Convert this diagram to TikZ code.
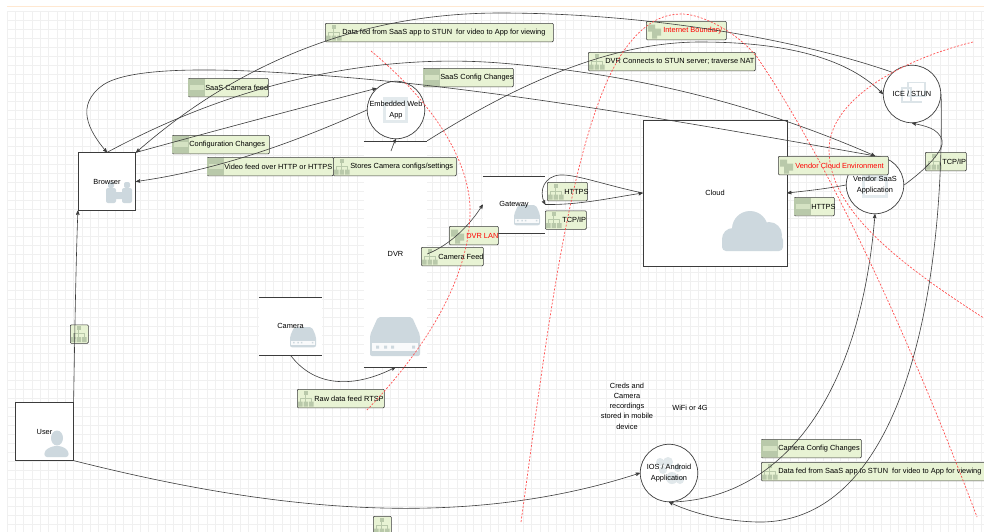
\documentclass[tikz,border=0pt]{standalone}
\usepackage{fontspec}
\setmainfont{Liberation Sans}
\usetikzlibrary{arrows}

\definecolor{gridColor}{RGB}{240,240,240}
\definecolor{lineColor}{RGB}{60,60,60}
\definecolor{iconColor}{RGB}{205,216,222}
\definecolor{labelColor}{RGB}{232,243,212}
\definecolor{labelIconColor}{RGB}{185,201,170}
\definecolor{boundaryColor}{RGB}{255,80,80}

\tikzset{
  flowbox/.style={draw=lineColor,line width=0.7pt,inner sep=0pt,minimum size=57.5pt,font=\fontsize{7.4}{10.3}\selectfont,align=center},
  flowcircle/.style={draw=lineColor,line width=0.7pt,circle,inner sep=0pt,minimum size=57.5pt,font=\fontsize{7.4}{10.3}\selectfont,align=center},
  flowstore/.style={inner sep=0pt,minimum width=63pt,font=\fontsize{7.4}{10.3}\selectfont},
  flowtext/.style={inner sep=0pt,font=\fontsize{7.4}{10.3}\selectfont,align=center},
  labelbox/.style={draw=lineColor,fill=labelColor,line width=0.6pt,rounded corners=1pt,inner sep=0pt,minimum height=18.5pt,anchor=north west,font=\fontsize{7.4}{10}\selectfont},
  conn/.style={->,>=stealth',color=lineColor,line width=0.6pt},
  boundary/.style={color=boundaryColor,line width=0.7pt,dash pattern=on 2pt off 1.6pt},
  pics/orgicon/.style={code={
    \fill[labelIconColor] (6.5,-8) rectangle (10.5,-4);
    \fill[labelIconColor] (1,3) rectangle (5.5,8) (6.5,3) rectangle (11,8) (12,3) rectangle (16.5,8);
    \draw[labelIconColor,line width=0.8pt] (8.5,-4) -- (8.5,3) (3,3) -- (3,-0.5) -- (14,-0.5) -- (14,3);
  }},
  pics/httpicon/.style={code={
    \fill[labelIconColor] (0.4,-8.8) rectangle (17,8.8);
    \fill[labelColor!60!labelIconColor] (1.5,-2.2) rectangle (16,2.2);
  }},
  pics/zoneicon/.style={code={
    \fill[labelIconColor] (2,-6) rectangle (9,1) (8,-2) rectangle (15,5) (6,1) rectangle (11,8);
  }},
  pics/driveicon/.style={code={
    \fill[iconColor,rounded corners=2pt] (8,0) -- (42,0) -- (50,18) -- (50,39) -- (0,39) -- (0,18) -- cycle;
    \fill[white!88!iconColor] (2,26) rectangle (48,34);
    \fill[iconColor] (6,28.5) rectangle (9,31.5) (14,28.5) rectangle (17,31.5) (21,28.5) rectangle (24,31.5) (42,28.5) rectangle (45,31.5);
  }}
}

\begin{document}
\begin{tikzpicture}[x=1pt,y=-1pt]
\useasboundingbox (0,0) rectangle (984,531);
\clip (0,0) rectangle (984,531);
\fill[white] (0,0) rectangle (984,531);
\fill[orange!18] (7,5.6) rectangle (984,7.2);
\begin{scope}[shift={(-1.3,2)}]
  \draw[xstep=8.33pt,ystep=9pt,color=gridColor,line width=0.7pt] (8.3,9) grid (990,535);
\end{scope}

\foreach \xa/\ya/\xb/\yb in {364/141/427/367,483/176/545/233,259/297/322/355,78/153/136/210,16/403/73/460,643/120/787/266}
  \fill[white] (\xa,\ya) rectangle (\xb,\yb);
\foreach \xa/\ya in {396/110,912/94,875/185,669/473}
  \fill[white] (\xa,\ya) circle (28.7);

\pic at (370,317) {driveicon};
\pic[scale=0.52] at (290,327) {driveicon};
\pic[scale=0.52] at (514,205) {driveicon};
\fill[iconColor,rounded corners=2pt] (106,188) rectangle (116,203) (122,188) rectangle (132,203) (114,192) rectangle (124,199) (108,182) rectangle (114,188) (124,182) rectangle (130,188);
\fill[iconColor] (57,438) ellipse (6 and 7.5);
\fill[iconColor,rounded corners=3pt] (44,457) -- (45,450) -- (53,446) -- (61,446) -- (68,450) -- (69,457) -- cycle;
\fill[iconColor] (750,229) circle (18) (733,239) circle (11) (769,235) circle (13) (771,242) circle (9);
\fill[iconColor,rounded corners=4pt] (722,236) rectangle (783,251);
\draw[iconColor!70,line width=1.4pt] (908,82.5) rectangle (925,96) (902,88) rectangle (911,102) (912,102) -- (922,102);
\fill[iconColor!55] (862,174) rectangle (888,198);
\fill[white] (865,181) rectangle (885,195);
\fill[iconColor!55] (383,97) rectangle (408,123);
\fill[white] (386,104) rectangle (405,120);
\fill[iconColor!60] (660,462) circle (4) (668,462) circle (5) (678,468) circle (4) (663,470) circle (4) (672,478) circle (6) (680,480) circle (4);

\node[flowbox] (browser) at (107,181.5) {Browser};
\node[flowbox] (user) at (44.5,431.5) {User};
\node[flowbox,minimum width=144pt,minimum height=146pt] (cloud) at (715,193) {Cloud};
\node[flowcircle] (embedded) at (396,110) {Embedded Web\\App};
\node[flowcircle] (ice) at (912,94) {ICE / STUN};
\node[flowcircle] (vendor) at (875,185) {Vendor SaaS\\Application};
\node[flowcircle] (ios) at (669,473) {IOS / Android\\Application};
\node[flowstore,minimum height=58pt] (camera) at (290.5,326) {Camera};
\node[flowstore,minimum height=226pt] (dvr) at (395.5,254) {DVR};
\node[flowstore,minimum width=62pt,minimum height=57pt] (gateway) at (514,204.5) {Gateway};
\node[flowtext] (creds) at (627,406) {Creds and\\Camera\\recordings\\stored in mobile\\device};
\node[flowtext] (wifi) at (690,408) {WiFi or 4G};
\foreach \nm in {camera,dvr,gateway}
  \draw[color=lineColor,line width=0.6pt] (\nm.north west) -- (\nm.north east) (\nm.south west) -- (\nm.south east);

\foreach \nm/\xa/\ya/\bw/\ic/\cl/\txt in {
  datatop/325/23/228/orgicon/black/{Data fed from SaaS app to STUN\ \ for video to App for viewing},
  camerafeedsaas/188/78/80/httpicon/black/{SaaS Camera feed},
  saasconfig/423/68/90/httpicon/black/{SaaS Config Changes},
  configchanges/172/135/97/httpicon/black/{Configuration Changes},
  videofeed/207/157/126/httpicon/black/{Video feed over HTTP or HTTPS},
  storesconfig/333/157/123/orgicon/black/{Stores Camera configs/settings},
  dvrlan/449/226/49/zoneicon/red/{DVR LAN},
  camerafeed/421/247/62/orgicon/black/{Camera Feed},
  internet/646/21/80/zoneicon/red/{Internet Boundary},
  dvrstun/588/52/167/orgicon/black/{DVR Connects to STUN server; traverse NAT},
  vendorzone/778/156/110/zoneicon/red/{Vendor Cloud Environment},
  httpsgate/547/182/40/orgicon/black/{HTTPS},
  tcpgate/545/210.5/41/orgicon/black/{TCP/IP},
  httpscloud/794/197/40/httpicon/black/{HTTPS},
  tcpvendor/925/152/41/orgicon/black/{TCP/IP},
  userflow/70/324.5/18/orgicon/black/{},
  rawfeed/297/389/87/orgicon/black/{Raw data feed RTSP},
  iosflow/373/516/18/orgicon/black/{},
  cameraconfig/761/439/100/httpicon/black/{Camera Config Changes},
  databottom/761/462/240/orgicon/black/{Data fed from SaaS app to STUN\ \ for video to App for viewing}
}{
  \node[labelbox,text=\cl] (\nm) at (\xa,\ya) {\makebox[\bw pt][l]{\hspace{17pt}\txt}};
  \pic at (\nm.west) {\ic};
}

\draw[conn] (user.north east) .. controls (75,320) and (76,260) .. (browser.south west);
\draw[conn] (user.south east) .. controls (250,505) and (450,535) .. (ios.west);
\draw[conn] (camera.south) .. controls (315,388) and (355,388) .. (dvr.south);
\draw[conn] (browser.north east) .. controls (210,132) and (300,108) .. (embedded.132);
\draw[conn] (embedded.west) .. controls (300,140) and (220,170) .. (browser.east);
\coordinate (dvrstub) at (391,151);
\draw[conn] (dvrstub) .. controls (393,146) and (394,142) .. (embedded.south);
\draw[conn] (browser.north) .. controls (260,70) and (400,55) .. (500,63) .. controls (650,75) and (770,110) .. (vendor.north);
\draw[conn] (vendor.north) .. controls (700,125) and (480,85) .. (300,74) .. controls (190,66) and (125,70) .. (103,85) .. controls (75,105) and (88,130) .. (browser.north);
\draw[conn] (ice.132) .. controls (800,40) and (650,13) .. (500,13) .. controls (350,13) and (230,70) .. (browser.north east);
\draw[conn] (dvr.north east) .. controls (500,95) and (600,42) .. (700,42) .. controls (790,42) and (850,60) .. (ice.west);
\draw[conn] (dvr.east) .. controls (450,245) and (470,225) .. (gateway.west);
\draw[conn] (gateway.east) .. controls (580,205) and (610,198) .. (cloud.west);
\draw[conn] (cloud.west) .. controls (605,185) and (575,174) .. (560,175) .. controls (545,176) and (538,190) .. (gateway.east);
\draw[conn] (vendor.west) .. controls (825,189) and (805,191) .. (cloud.east);
\draw[conn] (vendor.east) .. controls (925,170) and (945,150) .. (942,140) .. controls (938,128) and (925,126) .. (ice.south);
\draw[conn] (ice.east) .. controls (945,300) and (900,525) .. (757,522) .. controls (720,521) and (690,512) .. (ios.south);
\draw[conn] (ios.south) .. controls (780,500) and (860,400) .. (vendor.south);

\draw[boundary] (371,51) .. controls (430,100) and (472,160) .. (470,215) .. controls (468,280) and (425,350) .. (366,411);
\draw[boundary] (521,522) .. controls (545,350) and (570,130) .. (623,52) .. controls (645,20) and (665,14) .. (682,14) .. controls (700,14) and (735,30) .. (757,57) .. controls (800,120) and (880,260) .. (977,517);
\draw[boundary] (973,42) .. controls (900,60) and (829,100) .. (829,150) .. controls (829,210) and (900,265) .. (990,322);
\end{tikzpicture}
\end{document}
